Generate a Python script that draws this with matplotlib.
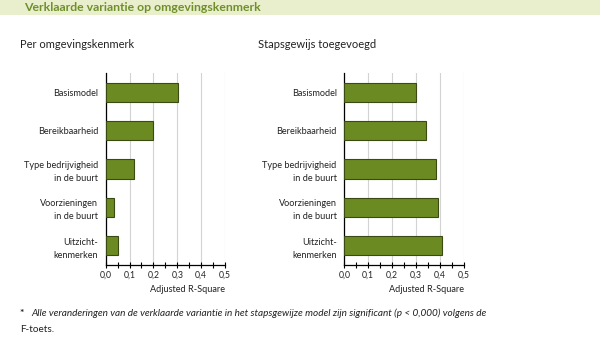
import numpy as np
import matplotlib.pyplot as plt
from matplotlib.patches import Rectangle
from matplotlib.ticker import MultipleLocator, FuncFormatter

plt.rcParams['font.family'] = ['Lato', 'DejaVu Sans']

# Data
categories = ['Basismodel', 'Bereikbaarheid', 'Type bedrijvigheid\nin de buurt',
              'Voorzieningen\nin de buurt', 'Uitzicht-\nkenmerken']
per_kenmerk = [0.302, 0.200, 0.118, 0.034, 0.050]
stapsgewijs = [0.301, 0.343, 0.382, 0.390, 0.407]

title = 'Verklaarde variantie op omgevingskenmerk'
subtitles = ['Per omgevingskenmerk', 'Stapsgewijs toegevoegd']
xlabel = 'Adjusted R-Square'

bar_color = '#6b8a22'
edge_color = '#3b4a12'
text_color = '#222222'

fig = plt.figure(figsize=(6, 3.46), dpi=100)

# Title banner
fig.patches.append(Rectangle((0, 1 - 15 / 346), 1, 15 / 346, transform=fig.transFigure,
                             facecolor='#e9efcd', edgecolor='none', zorder=0))
fig.text(24 / 600, 1 - 7.5 / 346, title, fontsize=8.8, fontweight='bold',
         color='#6f8f2c', va='center', ha='left')

axes_pos = [[105.7 / 600, 0.234, 119.3 / 600, 0.555],
            [344.3 / 600, 0.234, 119.7 / 600, 0.555]]
sub_x = [20 / 600, 258 / 600]

for pos, values, sub, sx in zip(axes_pos, [per_kenmerk, stapsgewijs], subtitles, sub_x):
    ax = fig.add_axes(pos)
    y = np.arange(len(categories))
    ax.barh(y, values, height=0.5, color=bar_color, edgecolor=edge_color, linewidth=0.8, zorder=3)
    ax.set_xlim(0, 0.5)
    ax.set_ylim(len(categories) - 0.5, -0.5)
    ax.set_yticks(y)
    ax.set_yticklabels(categories, fontsize=6.6, color=text_color, ha='right', linespacing=1.55)
    ax.tick_params(axis='y', length=0, pad=5.5)
    ax.xaxis.set_major_locator(MultipleLocator(0.1))
    ax.xaxis.set_minor_locator(MultipleLocator(0.05))
    ax.xaxis.set_major_formatter(FuncFormatter(lambda v, p: f'{v:.1f}'.replace('.', ',')))
    ax.tick_params(axis='x', which='both', direction='inout', length=4, width=0.8,
                   labelsize=6.2, colors='black', labelcolor=text_color, pad=2)
    ax.grid(axis='x', which='major', color='#d3d3d3', linewidth=0.8, zorder=0)
    for s in ['top', 'right']:
        ax.spines[s].set_visible(False)
    for s in ['left', 'bottom']:
        ax.spines[s].set_linewidth(0.9)
        ax.spines[s].set_color('black')
    ax.set_xlabel(xlabel, fontsize=6.6, color=text_color, loc='right', labelpad=4)
    fig.text(sx, 1 - 44 / 346, sub, fontsize=8, color=text_color, va='center', ha='left')

# Footnote
fig.text(20 / 600, 1 - 313 / 346, '*', fontsize=7.5, fontweight='bold', color=text_color, va='center')
fig.text(31 / 600, 1 - 313 / 346,
         'Alle veranderingen van de verklaarde variantie in het stapsgewijze model zijn significant (p < 0,000) volgens de',
         fontsize=7.2, style='italic', color=text_color, va='center')
fig.text(20 / 600, 1 - 330 / 346, 'F-toets.', fontsize=7.2, color=text_color, va='center')

plt.savefig('out.png', dpi=100)
